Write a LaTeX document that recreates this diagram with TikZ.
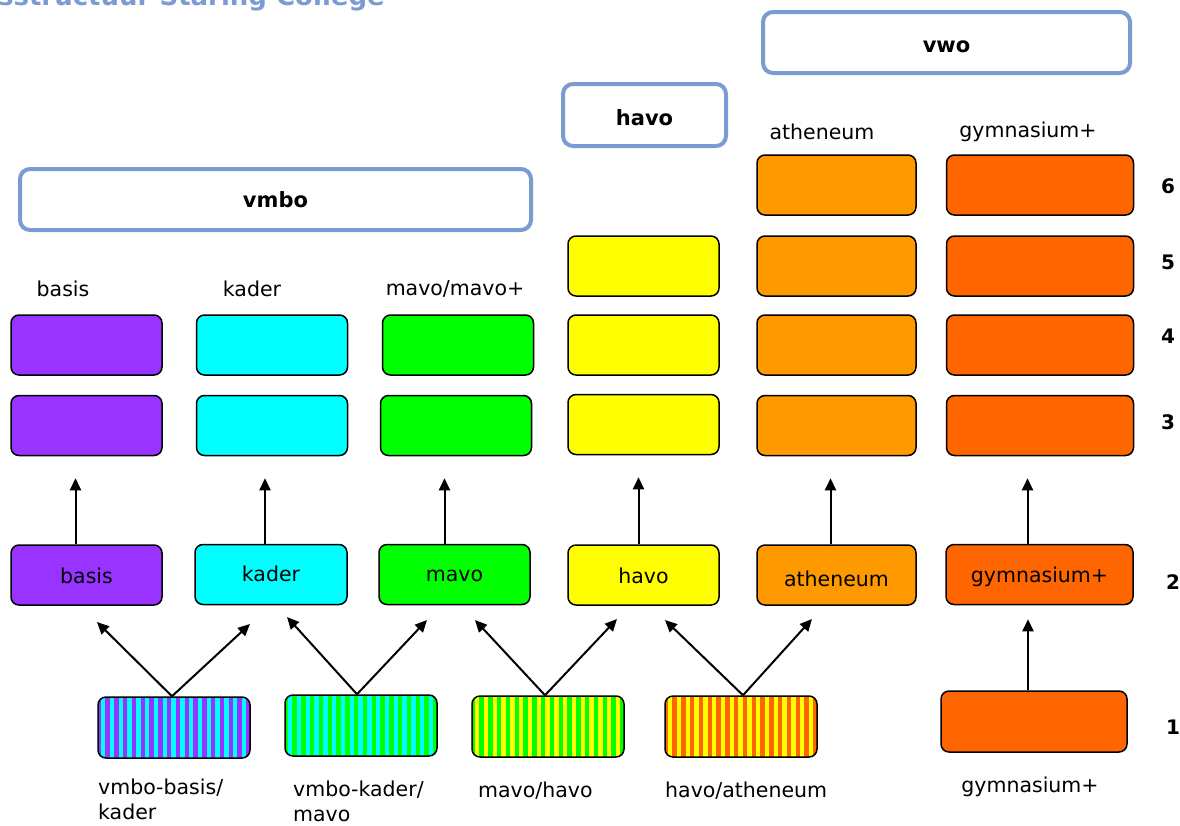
\documentclass[tikz,border=0pt]{standalone}
\usepackage{fontspec}
\setmainfont{DejaVu Sans}
\usetikzlibrary{arrows.meta}
\definecolor{hdrblue}{HTML}{7B9BD3}
\definecolor{cpurple}{HTML}{9933FF}
\definecolor{ccyan}{HTML}{00FFFF}
\definecolor{cgreen}{HTML}{00FF00}
\definecolor{cyellow}{HTML}{FFFF00}
\definecolor{cath}{HTML}{FF9900}
\definecolor{cgym}{HTML}{FF6600}
\tikzset{
  x=1pt,y=-1pt,
  every node/.style={font=\fontsize{20.5}{25}\selectfont},
  box/.style={draw, rounded corners=8pt, minimum width=151pt, minimum height=60pt, line width=1.5pt, inner sep=0pt, text height=20pt, text depth=3pt},
  hdr/.style={draw=hdrblue, fill=white, rounded corners=10pt, line width=4pt, inner sep=0pt, font=\fontsize{21}{26}\selectfont\bfseries},
  arr/.style={-{Triangle[length=12pt,width=11pt]}, line width=2pt},
  lbl/.style={inner sep=0pt},
  num/.style={inner sep=0pt, font=\fontsize{20}{24}\selectfont\bfseries},
  stripes/.style 2 args={box, fill=#1, path picture={
     \foreach \i in {0,...,18} \fill[#2, sharp corners] ([xshift=\i*8.8pt+3pt]path picture bounding box.south west) rectangle ++(4.4pt,80pt);}}
}
\begin{document}
\begin{tikzpicture}
\useasboundingbox (0,0) rectangle (1180,825);
% title (partly cut off, as in the reference)
\node[anchor=base east, inner sep=0pt, text=hdrblue, font=\fontsize{26}{30}\selectfont\bfseries] (title) at (385,5) {Onderwijsstructuur Staring College};
% headers
\node[hdr, minimum width=511pt, minimum height=61pt, text height=17pt, text depth=1pt] (hvmbo) at (275.5,199.5) {vmbo};
\node[hdr, minimum width=163pt, minimum height=62pt, text height=21pt, text depth=1pt] (hhavo) at (644.5,115) {havo};
\node[hdr, minimum width=367pt, minimum height=61pt, text height=21pt, text depth=1pt] (hvwo) at (946.5,42.5) {vwo};
% column labels
\node[lbl] (lbasis) at (63,289) {basis};
\node[lbl] (lkader) at (252,289) {kader};
\node[lbl] (lmavo) at (455,289) {mavo/mavo+};
\node[lbl] (lath) at (822,132) {atheneum};
\node[lbl] (lgym) at (1028,132) {gymnasium+};
% upper rows
\node[box, fill=cpurple] (b4) at (86.5,345) {};
\node[box, fill=cpurple] (b3) at (86.5,425.5) {};
\node[box, fill=ccyan] (k4) at (272,345) {};
\node[box, fill=ccyan] (k3) at (272,425.5) {};
\node[box, fill=cgreen] (m4) at (458,345) {};
\node[box, fill=cgreen] (m3) at (456,425.5) {};
\node[box, fill=cyellow] (h5) at (643.5,266) {};
\node[box, fill=cyellow] (h4) at (643.5,345) {};
\node[box, fill=cyellow] (h3) at (643.5,424.5) {};
\node[box, fill=cath, minimum width=159pt] (a6) at (836.5,185) {};
\node[box, fill=cath, minimum width=159pt] (a5) at (836.5,266) {};
\node[box, fill=cath, minimum width=159pt] (a4) at (836.5,345) {};
\node[box, fill=cath, minimum width=159pt] (a3) at (836.5,425.5) {};
\node[box, fill=cgym, minimum width=187pt] (g6) at (1040,185) {};
\node[box, fill=cgym, minimum width=187pt] (g5) at (1040,266) {};
\node[box, fill=cgym, minimum width=187pt] (g4) at (1040,345) {};
\node[box, fill=cgym, minimum width=187pt] (g3) at (1040,425.5) {};
% row 2
\node[box, fill=cpurple] (b2) at (86.5,575) {basis};
\node[box, fill=ccyan, minimum width=152pt] (k2) at (271,574.5) {\raisebox{0pt}[20pt][3pt]{\raisebox{2pt}{kader}}};
\node[box, fill=cgreen] (m2) at (454.5,574.5) {\raisebox{0pt}[20pt][3pt]{\raisebox{2pt}{mavo}}};
\node[box, fill=cyellow] (h2) at (643.5,575) {havo};
\node[box, fill=cath, minimum width=159pt] (a2) at (836.5,575) {\raisebox{0pt}[20pt][3pt]{\raisebox{-3pt}{atheneum}}};
\node[box, fill=cgym, minimum width=187pt] (g2) at (1039.5,574.5) {\raisebox{0pt}[20pt][3pt]{\raisebox{1pt}{gymnasium+}}};
% row 1
\node[stripes={cpurple}{ccyan}, minimum width=152pt, minimum height=61pt] (s1) at (174,727.5) {};
\node[stripes={cgreen}{ccyan}, minimum width=152pt, minimum height=61pt] (s2) at (361,725.5) {};
\node[stripes={cgreen}{cyellow}, minimum width=152pt, minimum height=61pt] (s3) at (548,726.5) {};
\node[stripes={cgym}{cyellow}, minimum width=152pt, minimum height=61pt] (s4) at (741,726.5) {};
\node[box, fill=cgym, minimum width=186pt, minimum height=61pt] (g1) at (1034,721.5) {};
% bottom labels
\node[lbl, anchor=north west, align=left] (ls1) at (98,779) {vmbo-basis/\\kader};
\node[lbl, anchor=north west, align=left] (ls2) at (293,781) {vmbo-kader/\\mavo};
\node[lbl, anchor=west] (ls3) at (478,791) {mavo/havo};
\node[lbl, anchor=west] (ls4) at (665,791) {havo/atheneum};
\node[lbl] (lg1) at (1030,787) {gymnasium+};
% numbers
\node[num] (n6) at (1168,186) {6};
\node[num] (n5) at (1168,262) {5};
\node[num] (n4) at (1168,336) {4};
\node[num] (n3) at (1168,422) {3};
\node[num] (n2) at (1173,582) {2};
\node[num] (n1) at (1173,727) {1};
% vertical arrows
\foreach \lo/\up/\dx in {b2/b3/-11, k2/k3/-6, m2/m3/-10, h2/h3/-5, a2/a3/-6, g2/g3/-12}{
  \coordinate (st) at ([xshift=\dx pt]\lo.north);
  \coordinate (en) at ([yshift=-22pt]\up.south);
  \draw[arr] (st) -- (st |- en);
}
\coordinate (st) at ([xshift=-6pt]g1.north);
\coordinate (en) at ([yshift=-14pt]g2.south);
\draw[arr] (st) -- (st |- en);
% diagonal arrows
\coordinate (t1a) at (97,622); \coordinate (t1b) at (250,624);
\coordinate (t2a) at (287,617); \coordinate (t2b) at (427,620);
\coordinate (t3a) at (475,620); \coordinate (t3b) at (617,619);
\coordinate (t4a) at (665,620); \coordinate (t4b) at (812,619);
\draw[arr] ([xshift=-2pt]s1.north) -- (t1a);
\draw[arr] ([xshift=-2pt]s1.north) -- (t1b);
\draw[arr] ([xshift=-4pt]s2.north) -- (t2a);
\draw[arr] ([xshift=-4pt]s2.north) -- (t2b);
\draw[arr] ([xshift=-3pt]s3.north) -- (t3a);
\draw[arr] ([xshift=-3pt]s3.north) -- (t3b);
\draw[arr] ([xshift=2pt]s4.north) -- (t4a);
\draw[arr] ([xshift=2pt]s4.north) -- (t4b);
\end{tikzpicture}
\end{document}
